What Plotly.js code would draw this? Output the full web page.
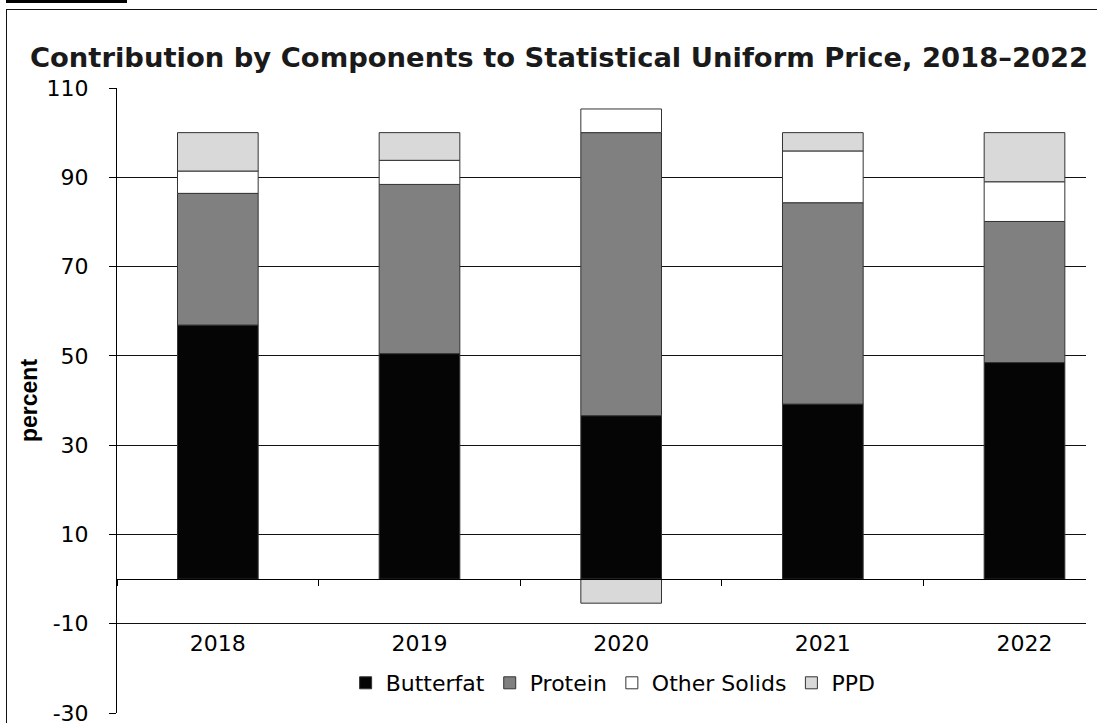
<!DOCTYPE html>
<html>
<head>
<meta charset="utf-8">
<script src="https://cdn.plot.ly/plotly-3.0.1.min.js"></script>
<style>
html,body{margin:0;padding:0;background:#fff;}
#wrap{position:relative;width:1097px;height:723px;overflow:hidden;}
#chart{position:absolute;left:0;top:0;width:1097px;height:723px;}
#tab{position:absolute;left:6px;top:0;width:121px;height:3px;background:#000;}
#frame{position:absolute;left:6px;top:9px;width:1200px;height:800px;border-left:1.5px solid #111;border-top:1.5px solid #111;pointer-events:none;}
</style>
</head>
<body>
<div id="wrap">
<div id="chart"></div>
<div id="tab"></div>
<div id="frame"></div>
</div>
<script>
var years = ["2018", "2019", "2020", "2021", "2022"];
var butterfat = [56.9, 50.5, 36.6, 39.2, 48.5];
var protein = [29.5, 37.9, 63.4, 45.1, 31.6];
var otherSolids = [5.0, 5.4, 5.3, 11.6, 8.9];
var ppd = [8.6, 6.2, -5.4, 4.1, 11.0];
var yTicks = [-30, -10, 10, 30, 50, 70, 90, 110];

var seriesNames = ["Butterfat", "Protein", "Other Solids", "PPD"];
var seriesValues = [butterfat, protein, otherSolids, ppd];
var seriesColors = ["#050505", "#808080", "#ffffff", "#d9d9d9"];

var traces = seriesNames.map(function(n, i){
  return {
    type: "bar",
    name: n,
    x: years,
    y: seriesValues[i],
    marker: {color: seriesColors[i], line: {color: "#333333", width: 1}},
    hoverinfo: "x+y+name"
  };
});

var font = "DejaVu Sans, Liberation Sans, Arial, sans-serif";
var layout = {
  width: 1097, height: 723,
  margin: {l: 117, r: 11, t: 88, b: 10, pad: 0},
  paper_bgcolor: "#fff", plot_bgcolor: "#fff",
  barmode: "relative",
  bargap: 0.6,
  showlegend: true,
  title: {
    text: "<b>Contribution by Components to Statistical Uniform Price, 2018\u20132022</b>",
    font: {family: "DejaVu Sans, Verdana, sans-serif", size: 27.4, color: "#1a1a1a"},
    x: 0.5096, xanchor: "center", xref: "container",
    y: 0.921, yanchor: "middle", yref: "container"
  },
  xaxis: {
    type: "category",
    range: [-0.5, 4.305],
    anchor: "free",
    position: 30/140,
    showline: true, linecolor: "#000", linewidth: 1,
    ticks: "outside", tickson: "boundaries", ticklen: 6, tickcolor: "#000", tickwidth: 1,
    ticklabelstandoff: 45,
    showgrid: false, zeroline: false,
    tickfont: {family: font, size: 22, color: "#000"},
    fixedrange: true
  },
  yaxis: {
    range: [-30, 110],
    tickvals: yTicks,
    ticktext: yTicks.map(String),
    showline: true, linecolor: "#000", linewidth: 1,
    ticks: "outside", ticklen: 7, tickcolor: "#000",
    ticklabelstandoff: 16,
    ticklabeloverflow: "allow",
    showgrid: true, gridcolor: "#111", gridwidth: 1,
    zeroline: false,
    tickfont: {family: font, size: 22, color: "#000"},
    title: {text: "<b>percent</b>", font: {family: "Liberation Sans Narrow, Liberation Sans, Arial Narrow, sans-serif", size: 23, color: "#000"}, standoff: 2},
    fixedrange: true
  },
  legend: {
    orientation: "h",
    x: 0.512, xanchor: "center",
    y: 0.048, yanchor: "middle",
    font: {family: font, size: 22, color: "#000"},
    bgcolor: "rgba(0,0,0,0)",
    itemwidth: 30,
    traceorder: "normal"
  }
};

Plotly.newPlot("chart", traces, layout, {displayModeBar: false, staticPlot: true});
</script>
</body>
</html>
